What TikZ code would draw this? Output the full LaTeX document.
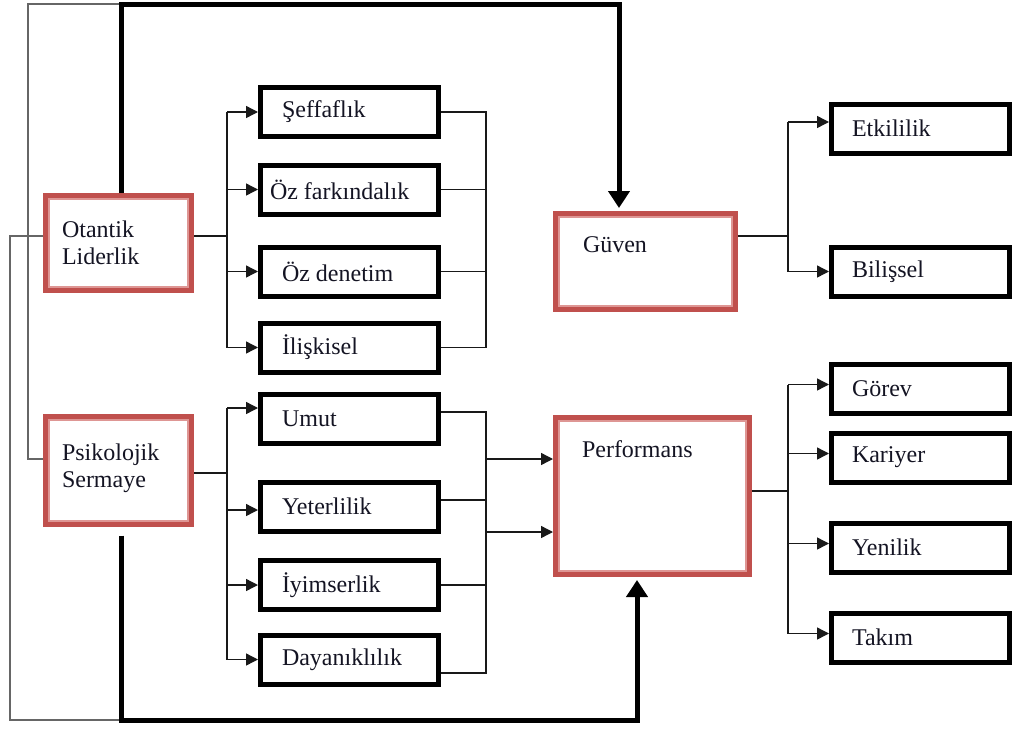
\documentclass[tikz,border=0pt]{standalone}
\usepackage{fontspec}
\setmainfont{Liberation Serif}
\usetikzlibrary{arrows.meta}
\definecolor{redc}{RGB}{192,80,77}
\definecolor{redl}{RGB}{222,150,148}
\definecolor{txt}{RGB}{20,20,35}
\newcommand\mybx[2]{\parbox[c][49pt][c]{178pt}{\hspace*{#1}#2}}
\begin{document}
\begin{tikzpicture}[x=1pt,y=-1pt,
  redbox/.style={draw=redc, line width=7pt, fill=white, inner sep=0pt, text=txt, font=\fontsize{24}{27}\selectfont},
  redin/.style={draw=redl, line width=1.5pt},
  bbox/.style={draw=black, line width=5pt, fill=white, inner sep=0pt, text=txt, font=\fontsize{24}{27}\selectfont},
  ln/.style={draw=black!90, line width=1.4pt},
  arr/.style={ln, -{Triangle[length=12pt,width=12pt]}},
  gl/.style={draw=black!60, line width=1.5pt},
  thk/.style={draw=black, line width=5pt},
  thkarr/.style={thk, -{Triangle[length=17pt,width=21pt]}, shorten >=3pt}
]
\useasboundingbox (0,0) rectangle (1014,728);

% red boxes
\node[redbox] (ot) at (118.5,243) {\parbox[c][93pt][t]{144pt}{\vspace*{24pt}\hspace*{15.5pt}Otantik\\\hspace*{15.5pt}Liderlik}};
\node[redbox] (ps) at (118.5,470.5) {\parbox[c][106pt][t]{144pt}{\vspace*{26pt}\hspace*{15.5pt}Psikolojik\\\hspace*{15.5pt}Sermaye}};
\node[redbox] (guv) at (645.5,261.5) {\parbox[c][94pt][t]{178pt}{\vspace*{22pt}\hspace*{26.5pt}Güven}};
\node[redbox] (perf) at (652.5,496) {\parbox[c][155pt][t]{192pt}{\vspace*{22pt}\hspace*{25.5pt}Performans}};
\foreach \n in {ot,ps,guv,perf}{
  \draw[redin] ([shift={(6,6)}]\n.north west) rectangle ([shift={(-6,-6)}]\n.south east);
}

% black boxes
\node[bbox] (sef) at (349.5,112) {\mybx{21.5pt}{Şeffaflık}};
\node[bbox] (fark) at (349.5,189.5) {\mybx{9.5pt}{Öz farkındalık}};
\node[bbox] (den) at (349.5,271.5) {\mybx{21.5pt}{Öz denetim}};
\node[bbox] (ili) at (349.5,347.5) {\mybx{21.5pt}{İlişkisel}};
\node[bbox] (umu) at (349.5,418.5) {\mybx{21.5pt}{Umut}};
\node[bbox] (yet) at (349.5,506.5) {\mybx{21.5pt}{Yeterlilik}};
\node[bbox] (iyi) at (349.5,585) {\mybx{21.5pt}{İyimserlik}};
\node[bbox] (day) at (349.5,659.5) {\mybx{21.5pt}{Dayanıklılık}};
\node[bbox] (etk) at (920.5,128.5) {\mybx{20.5pt}{Etkililik}};
\node[bbox] (bil) at (920.5,271.5) {\mybx{20.5pt}{Bilişsel}};
\node[bbox] (gor) at (920.5,388.5) {\mybx{20.5pt}{Görev}};
\node[bbox] (kar) at (920.5,457.5) {\mybx{20.5pt}{Kariyer}};
\node[bbox] (yen) at (920.5,547.5) {\mybx{20.5pt}{Yenilik}};
\node[bbox] (tak) at (920.5,637.5) {\mybx{20.5pt}{Takım}};

% helper coordinates
\coordinate (b1) at (227,0);
\coordinate (b2) at (486,0);
\coordinate (b3) at (788,0);
\coordinate (tp) at (0,4);
\coordinate (bt) at (0,720);
\coordinate (g1) at (28,0);
\coordinate (g2) at (10,0);
\coordinate (oto) at ([yshift=7pt]ot.east);
\coordinate (otw) at ([yshift=7pt]ot.west);
\coordinate (otn) at ([xshift=2.5pt]ot.north);
\coordinate (pso) at ([yshift=-2.5pt]ps.east);
\coordinate (psw) at ([yshift=11.5pt]ps.west);
\coordinate (pss) at ([xshift=2.5pt,yshift=-8.5pt]ps.south);
\coordinate (umuin) at ([yshift=10.5pt]umu.west);
\coordinate (yetin) at ([yshift=-3.5pt]yet.west);
\coordinate (umuo) at ([yshift=6.5pt]umu.east);
\coordinate (yeto) at ([yshift=6.5pt]yet.east);
\coordinate (dayo) at ([yshift=-13.5pt]day.east);
\coordinate (pin1) at ([yshift=37pt]perf.west);
\coordinate (pin2) at ([yshift=-36pt]perf.west);
\coordinate (guvo) at ([yshift=25.5pt]guv.east);
\coordinate (guvn) at ([xshift=-26.5pt]guv.north);
\coordinate (etkin) at ([yshift=6.5pt]etk.west);
\coordinate (perfo) at ([yshift=5pt]perf.east);
\coordinate (perfs) at ([xshift=-15.5pt]perf.south);
\coordinate (gorin) at ([yshift=4pt]gor.west);
\coordinate (karin) at ([yshift=4pt]kar.west);
\coordinate (yenin) at ([yshift=4pt]yen.west);
\coordinate (takin) at ([yshift=4pt]tak.west);

% Otantik Liderlik branches
\draw[ln] (oto) -| (b1 |- sef.west);
\draw[ln] (oto) -| (b1 |- ili.west);
\draw[arr] (b1 |- sef.west) -- (sef.west);
\draw[arr] (b1 |- fark.west) -- (fark.west);
\draw[arr] (b1 |- den.west) -- (den.west);
\draw[arr] (b1 |- ili.west) -- (ili.west);
% right bracket (upper)
\draw[ln] (sef.east) -| (b2 |- ili.east) -- (ili.east);
\draw[ln] (fark.east) -- (fark.east -| b2);
\draw[ln] (den.east) -- (den.east -| b2);

% Psikolojik Sermaye branches
\draw[ln] (pso) -| (b1 |- umuin);
\draw[ln] (pso) -| (b1 |- day.west);
\draw[arr] (b1 |- umuin) -- (umuin);
\draw[arr] (b1 |- yetin) -- (yetin);
\draw[arr] (b1 |- iyi.west) -- (iyi.west);
\draw[arr] (b1 |- day.west) -- (day.west);
% right bracket (lower) to Performans
\draw[ln] (umuo) -| (b2 |- dayo) -- (dayo);
\draw[ln] (yeto) -- (yeto -| b2);
\draw[ln] (iyi.east) -- (iyi.east -| b2);
\draw[arr] (b2 |- pin1) -- (pin1);
\draw[arr] (b2 |- pin2) -- (pin2);

% Guven branches
\draw[ln] (guvo) -| (b3 |- etkin);
\draw[ln] (guvo) -| (b3 |- bil.west);
\draw[arr] (b3 |- etkin) -- (etkin);
\draw[arr] (b3 |- bil.west) -- (bil.west);

% Performans branches
\draw[ln] (perfo) -| (b3 |- gorin);
\draw[ln] (perfo) -| (b3 |- takin);
\draw[arr] (b3 |- gorin) -- (gorin);
\draw[arr] (b3 |- karin) -- (karin);
\draw[arr] (b3 |- yenin) -- (yenin);
\draw[arr] (b3 |- takin) -- (takin);

% thin gray loops
\draw[gl] (psw) -| (g1 |- tp) -- (otn |- tp);
\draw[gl] (otw) -| (g2 |- bt) -- (pss |- bt);

% thick connectors
\draw[thkarr] (otn) |- (guvn |- tp) -- (guvn);
\draw[thkarr] (pss) |- (perfs |- bt) -- (perfs);
\end{tikzpicture}
\end{document}
